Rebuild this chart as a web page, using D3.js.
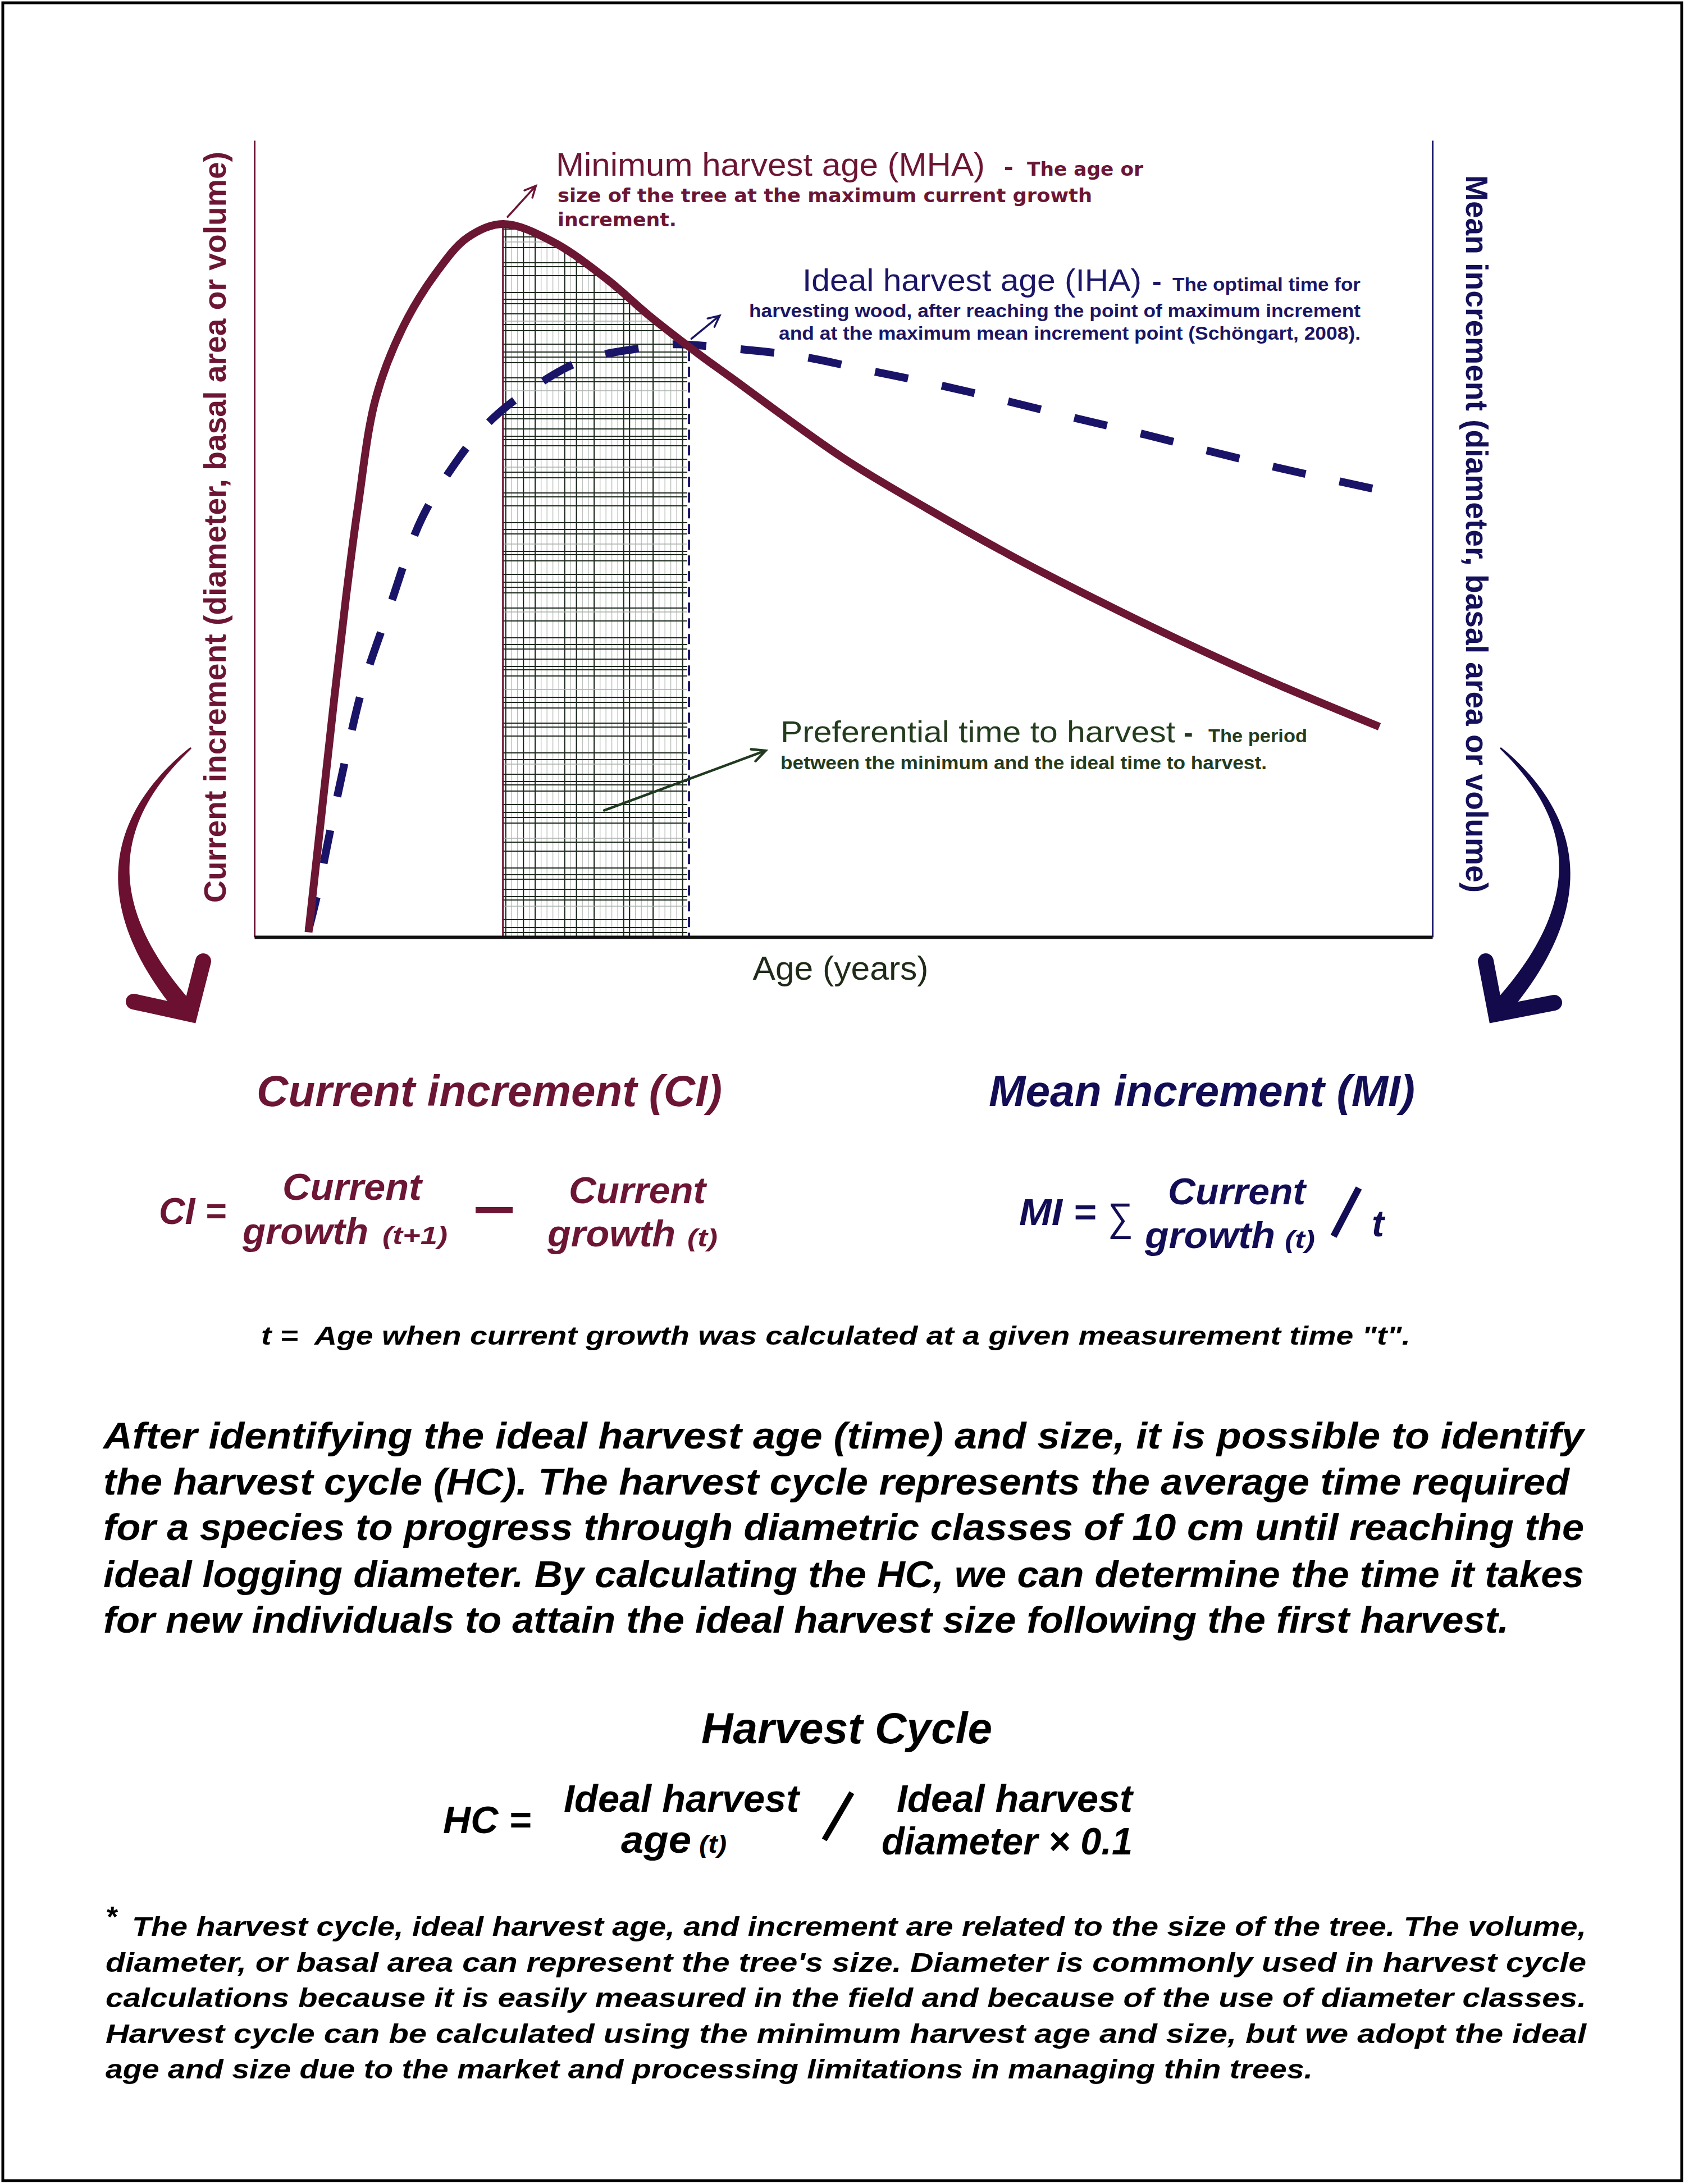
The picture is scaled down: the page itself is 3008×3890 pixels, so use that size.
<!DOCTYPE html>
<html>
<head>
<meta charset="utf-8">
<script src="https://cdn.jsdelivr.net/npm/d3@7/dist/d3.min.js"></script>
<style>
  html, body { margin: 0; padding: 0; background: #ffffff; }
  svg { display: block; }
  text { white-space: pre; }
</style>
</head>
<body>
<div id="chart"></div>
<script>
// current increment curve (age, increment)
const ciAge = [4.6, 5.7, 6.8, 7.8, 8.8, 10.3, 12.6, 15.4, 18.1, 21.1, 25.3, 29.9, 33.6, 37.7, 40.4, 49.9, 57.1, 64.2, 71.4, 78.5, 86.4, 95.5]
const ciValue = [0.6, 15.4, 30.2, 42.9, 54.1, 67.6, 76.5, 83.3, 87.8, 89.5, 87.3, 82.6, 77.9, 73.2, 70.3, 60.2, 53.8, 47.9, 42.4, 37.3, 32.0, 26.4]

// mean increment curve
const miAge = [4.6, 5.3, 6.5, 7.8, 9.2, 11.3, 14.2, 17.4, 19.5, 21.5, 24.0, 26.8, 29.6, 32.8, 35.6, 40.4, 46.3, 52.2, 58.1, 64.1, 69.8, 75.8, 81.6, 87.5, 94.9]
const miValue = [0.9, 5.1, 13.8, 22.8, 31.4, 40.6, 52.5, 60.2, 64.0, 66.7, 69.3, 71.7, 73.1, 73.9, 74.4, 73.9, 72.9, 71.1, 69.3, 67.2, 65.1, 63.0, 60.8, 58.7, 56.3]

// minimum / ideal harvest age
const harvestAges = [21.1, 36.8]

const paragraphLines = [
  'After identifying the ideal harvest age (time) and size, it is possible to identify',
  'the harvest cycle (HC). The harvest cycle represents the average time required',
  'for a species to progress through diametric classes of 10 cm until reaching the',
  'ideal logging diameter. By calculating the HC, we can determine the time it takes',
  'for new individuals to attain the ideal harvest size following the first harvest.'
]
const noteLines = [
  'The harvest cycle, ideal harvest age, and increment are related to the size of the tree. The volume,',
  'diameter, or basal area can represent the tree\'s size. Diameter is commonly used in harvest cycle',
  'calculations because it is easily measured in the field and because of the use of diameter classes.',
  'Harvest cycle can be calculated using the minimum harvest age and size, but we adopt the ideal',
  'age and size due to the market and processing limitations in managing thin trees.'
]

const SANS = '"Liberation Sans", Arial, Helvetica, sans-serif'
const WIDE = '"DejaVu Sans", Verdana, sans-serif'
const MAROON = '#6c1535'
const NAVY = '#1b1666'
const GREEN = '#243c1e'

const W = 3008
const H = 3890
const svg = d3.select('#chart').append('svg')
  .attr('width', W)
  .attr('height', H)

svg.append('rect').attr('width', W).attr('height', H).attr('fill', '#ffffff')
svg.append('rect')
  .attr('x', 5).attr('y', 5).attr('width', 2990).attr('height', 3879)
  .attr('fill', 'none').attr('stroke', '#000').attr('stroke-width', 5)

// 绘图区
const plot = { left: 453, right: 2551, top: 250, bottom: 1669 }
const x = d3.scaleLinear().domain([0, 100]).range([plot.left, plot.right])
const y = d3.scaleLinear().domain([0, 100]).range([plot.bottom, plot.top])

const curve = d3.curveCatmullRom.alpha(0.5)
const ciData = d3.zip(ciAge, ciValue)
const miData = d3.zip(miAge, miValue)
const line = d3.line().x(d => x(d[0])).y(d => y(d[1])).curve(curve)
const area = d3.area().x(d => x(d[0])).y0(y(0)).y1(d => y(d[1])).curve(curve)

// text helper
function txt(parent, o) {
  const t = parent.append('text')
    .attr('x', o.x || 0)
    .attr('y', o.y || 0)
    .attr('font-family', o.family || SANS)
    .attr('font-size', o.size)
    .attr('font-weight', o.bold ? 'bold' : 'normal')
    .attr('font-style', o.italic ? 'italic' : 'normal')
    .attr('fill', o.fill || '#000')
    .text(o.text)
  if (o.width) t.attr('textLength', o.width).attr('lengthAdjust', 'spacingAndGlyphs')
  if (o.anchor) t.attr('text-anchor', o.anchor)
  if (o.transform) t.attr('transform', o.transform)
  return t
}

// small pointer arrow
function arrow(parent, p0, p1, color, width, head) {
  const a = Math.atan2(p1[1] - p0[1], p1[0] - p0[0])
  const h1 = [p1[0] - head * Math.cos(a - 0.45), p1[1] - head * Math.sin(a - 0.45)]
  const h2 = [p1[0] - head * Math.cos(a + 0.45), p1[1] - head * Math.sin(a + 0.45)]
  parent.append('path')
    .attr('d', `M${p0}L${p1}M${h1}L${p1}L${h2}`)
    .attr('fill', 'none')
    .attr('stroke', color)
    .attr('stroke-width', width)
    .attr('stroke-linecap', 'round')
}

// big curved brush arrow
function bigArrow(p0, c, p1, arms, color) {
  const side = []
  const back = []
  d3.range(0, 1.0001, 0.02).forEach(t => {
    const bx = (1 - t) * (1 - t) * p0[0] + 2 * t * (1 - t) * c[0] + t * t * p1[0]
    const by = (1 - t) * (1 - t) * p0[1] + 2 * t * (1 - t) * c[1] + t * t * p1[1]
    const dx = 2 * (1 - t) * (c[0] - p0[0]) + 2 * t * (p1[0] - c[0])
    const dy = 2 * (1 - t) * (c[1] - p0[1]) + 2 * t * (p1[1] - c[1])
    const len = Math.hypot(dx, dy)
    const w = (3 + 30 * Math.pow(t, 0.8)) / 2
    side.push([bx - dy / len * w, by + dx / len * w])
    back.push([bx + dy / len * w, by - dx / len * w])
  })
  svg.append('path')
    .attr('d', d3.line()(side.concat(back.reverse())) + 'Z')
    .attr('fill', color)
  svg.append('path')
    .attr('d', d3.line()([arms[0], p1, arms[1]]))
    .attr('fill', 'none')
    .attr('stroke', color)
    .attr('stroke-width', 28)
    .attr('stroke-linecap', 'round')
    .attr('stroke-linejoin', 'miter')
}

// clip paths for the hatched harvest window
const defs = svg.append('defs')
defs.append('clipPath').attr('id', 'hatchRect')
  .append('rect')
  .attr('x', x(harvestAges[0]) + 1)
  .attr('y', plot.top)
  .attr('width', x(harvestAges[1]) - x(harvestAges[0]) - 2)
  .attr('height', plot.bottom - plot.top)
defs.append('clipPath').attr('id', 'underCI')
  .append('path')
  .attr('d', area(ciData))

const hatch = svg.append('g').attr('clip-path', 'url(#hatchRect)')
  .append('g').attr('clip-path', 'url(#underCI)')

const hx0 = x(harvestAges[0])
const hx1 = x(harvestAges[1])
d3.range(hx0 + 5, hx1, 10.5).forEach((vx, i) => {
  const dark = i % 5 === 0 || i % 9 === 3
  hatch.append('line')
    .attr('x1', vx).attr('x2', vx)
    .attr('y1', plot.top).attr('y2', plot.bottom)
    .attr('stroke', dark ? '#1e2a1e' : '#b4bab4')
    .attr('stroke-width', dark ? 2.2 : 1.3)
})
const gaps = [9, 14, 24, 11, 6, 13, 18, 8, 12, 30, 16, 7, 27, 10]
let hy = plot.bottom - 8
let k = 0
while (hy > plot.top) {
  const dark = k % 9 !== 3
  hatch.append('line')
    .attr('x1', hx0).attr('x2', hx1)
    .attr('y1', hy).attr('y2', hy)
    .attr('stroke', dark ? '#1e2a1e' : '#a8aea8')
    .attr('stroke-width', dark ? 2.2 : 1.3)
  hy -= gaps[k % gaps.length]
  k++
}

// window borders
const peakY = y(d3.max(ciValue))
svg.append('line')
  .attr('x1', hx0).attr('x2', hx0)
  .attr('y1', peakY).attr('y2', plot.bottom)
  .attr('stroke', MAROON).attr('stroke-width', 3)
svg.append('line')
  .attr('x1', hx1 + 2).attr('x2', hx1 + 2)
  .attr('y1', y(d3.max(miValue)) + 12).attr('y2', plot.bottom)
  .attr('stroke', NAVY).attr('stroke-width', 4)
  .attr('stroke-dasharray', '18 10')

// axes (no ticks)
svg.append('g')
  .attr('transform', `translate(${plot.left},0)`)
  .call(d3.axisLeft(y).tickValues([]).tickSizeOuter(0))
  .call(g => g.select('.domain').attr('stroke', MAROON).attr('stroke-width', 3))
svg.append('g')
  .attr('transform', `translate(${plot.right},0)`)
  .call(d3.axisRight(y).tickValues([]).tickSizeOuter(0))
  .call(g => g.select('.domain').attr('stroke', '#1a1a6e').attr('stroke-width', 3))

// curves
const miPath = svg.append('path')
  .attr('d', line(miData))
  .attr('fill', 'none')
  .attr('stroke', '#1a1468')
  .attr('stroke-width', 14)
// fit the dash pattern so the line ends on a full dash
const miLen = miPath.node().getTotalLength()
const dash = 60
const nGaps = Math.round((miLen - dash) / 124)
miPath.attr('stroke-dasharray', `${dash} ${(miLen - dash * (nGaps + 1)) / nGaps}`)

svg.append('path')
  .attr('d', line(ciData))
  .attr('fill', 'none')
  .attr('stroke', '#6b1632')
  .attr('stroke-width', 14)

svg.append('g')
  .attr('transform', `translate(0,${plot.bottom})`)
  .call(d3.axisBottom(x).tickValues([]).tickSizeOuter(0))
  .call(g => g.select('.domain').attr('stroke', '#111').attr('stroke-width', 6))

// axis titles
txt(svg, { text: 'Current increment (diameter, basal area or volume)', size: 55, bold: true, fill: MAROON,
  anchor: 'middle', width: 1338, transform: 'translate(402,939) rotate(-90)' })
txt(svg, { text: 'Mean increment (diameter, basal area or volume)', size: 55, bold: true, fill: '#14105a',
  anchor: 'middle', width: 1278, transform: 'translate(2611,951) rotate(90)' })
txt(svg, { x: 1497, y: 1745, text: 'Age (years)', size: 60, fill: '#1f2b18', anchor: 'middle', width: 313 })

// annotations
arrow(svg, [x(21.5), y(90.4)], [x(23.9), y(94.3)], MAROON, 3.5, 22)
arrow(svg, [x(37.1), y(75.1)], [x(39.5), y(78.0)], NAVY, 3.5, 22)
arrow(svg, [x(29.7), y(15.9)], [x(43.4), y(23.4)], '#1f3a1e', 4.5, 26)

txt(svg, { x: 990, y: 313, text: 'Minimum harvest age (MHA)', size: 57, fill: MAROON, width: 764 })
txt(svg, { x: 1788, y: 313, text: '-', size: 50, bold: true, fill: MAROON })
txt(svg, { x: 1829, y: 313, text: 'The age or', size: 33, bold: true, family: WIDE, fill: MAROON, width: 207 })
txt(svg, { x: 993, y: 360, text: 'size of the tree at the maximum current growth', size: 33, bold: true, family: WIDE, fill: MAROON, width: 952 })
txt(svg, { x: 993, y: 403, text: 'increment.', size: 33, bold: true, family: WIDE, fill: MAROON, width: 212 })

txt(svg, { x: 1429, y: 518, text: 'Ideal harvest age (IHA)', size: 56, fill: NAVY, width: 604 })
txt(svg, { x: 2052, y: 518, text: '-', size: 50, bold: true, fill: NAVY })
txt(svg, { x: 2088, y: 518, text: 'The optimal time for', size: 33, bold: true, fill: NAVY, width: 335 })
txt(svg, { x: 1334, y: 565, text: 'harvesting wood, after reaching the point of maximum increment', size: 33, bold: true, fill: NAVY, width: 1089 })
txt(svg, { x: 1387, y: 605, text: 'and at the maximum mean increment point (Schöngart, 2008).', size: 33, bold: true, fill: NAVY, width: 1036 })

txt(svg, { x: 1390, y: 1322, text: 'Preferential time to harvest', size: 54, fill: GREEN, width: 703 })
txt(svg, { x: 2108, y: 1322, text: '-', size: 50, bold: true, fill: GREEN })
txt(svg, { x: 2152, y: 1322, text: 'The period', size: 33, bold: true, fill: GREEN, width: 176 })
txt(svg, { x: 1390, y: 1370, text: 'between the minimum and the ideal time to harvest.', size: 33, bold: true, fill: GREEN, width: 866 })

// big arrows beside the axes
bigArrow([340, 1332], [102, 1540], [338, 1806], [[362, 1712], [238, 1784]], '#6b1030')
bigArrow([2672, 1332], [2905, 1540], [2664, 1806], [[2646, 1712], [2768, 1786]], '#120a4a')

// formulas
const bi = { bold: true, italic: true }
txt(svg, { ...bi, x: 457, y: 1970, text: 'Current increment (CI)', size: 77, fill: MAROON, width: 829 })
txt(svg, { ...bi, x: 1761, y: 1970, text: 'Mean increment (MI)', size: 77, fill: '#120d55', width: 759 })

txt(svg, { ...bi, x: 283, y: 2180, text: 'CI =', size: 66, fill: MAROON, width: 120 })
txt(svg, { ...bi, x: 503, y: 2137, text: 'Current', size: 66, fill: MAROON, width: 248 })
txt(svg, { ...bi, x: 432, y: 2216, text: 'growth', size: 66, fill: MAROON, width: 224 })
txt(svg, { ...bi, x: 681, y: 2216, text: '(t+1)', size: 44, fill: MAROON, width: 116 })
svg.append('rect').attr('x', 847).attr('y', 2150).attr('width', 66).attr('height', 11).attr('fill', MAROON)
txt(svg, { ...bi, x: 1013, y: 2143, text: 'Current', size: 66, fill: MAROON, width: 244 })
txt(svg, { ...bi, x: 975, y: 2220, text: 'growth', size: 66, fill: MAROON, width: 228 })
txt(svg, { ...bi, x: 1224, y: 2220, text: '(t)', size: 44, fill: MAROON, width: 54 })

txt(svg, { ...bi, x: 1815, y: 2182, text: 'MI =', size: 66, fill: '#120d55', width: 137 })
txt(svg, { x: 1973, y: 2192, text: '∑', size: 70, fill: '#120d55', width: 45 })
txt(svg, { ...bi, x: 2080, y: 2145, text: 'Current', size: 66, fill: '#120d55', width: 245 })
txt(svg, { ...bi, x: 2039, y: 2223, text: 'growth', size: 66, fill: '#120d55', width: 232 })
txt(svg, { ...bi, x: 2288, y: 2223, text: '(t)', size: 44, fill: '#120d55', width: 54 })
svg.append('line').attr('x1', 2420).attr('y1', 2116).attr('x2', 2375).attr('y2', 2202)
  .attr('stroke', '#120d55').attr('stroke-width', 12)
txt(svg, { ...bi, x: 2443, y: 2202, text: 't', size: 66, fill: '#120d55' })

txt(svg, { ...bi, x: 465, y: 2395, text: 't =  Age when current growth was calculated at a given measurement time "t".', size: 47, width: 2047 })

// paragraph
const paraWidths = [2637, 2611, 2637, 2637, 2503]
paragraphLines.forEach((s, i) => {
  txt(svg, { ...bi, x: 184, y: [2580, 2662, 2743, 2827, 2908][i], text: s, size: 67, width: paraWidths[i] })
})

// harvest cycle
txt(svg, { ...bi, x: 1249, y: 3105, text: 'Harvest Cycle', size: 77, width: 518 })
txt(svg, { ...bi, x: 789, y: 3265, text: 'HC =', size: 68, width: 157 })
txt(svg, { ...bi, x: 1004, y: 3227, text: 'Ideal harvest', size: 68, width: 419 })
txt(svg, { ...bi, x: 1106, y: 3300, text: 'age', size: 68, width: 125 })
txt(svg, { ...bi, x: 1245, y: 3300, text: '(t)', size: 45, width: 49 })
svg.append('line').attr('x1', 1517).attr('y1', 3193).attr('x2', 1468).attr('y2', 3277)
  .attr('stroke', '#000').attr('stroke-width', 10)
txt(svg, { ...bi, x: 1597, y: 3227, text: 'Ideal harvest', size: 68, width: 420 })
txt(svg, { ...bi, x: 1570, y: 3303, text: 'diameter × 0.1', size: 68, width: 447 })

// footnote
txt(svg, { x: 190, y: 3432, text: '*', size: 52, bold: true })
const noteX = [235, 188, 188, 188, 188]
const noteW = [2590, 2637, 2637, 2637, 2150]
noteLines.forEach((s, i) => {
  txt(svg, { ...bi, x: noteX[i], y: 3448 + i * 63.5, text: s, size: 49, width: noteW[i] })
})
</script>
</body>
</html>
